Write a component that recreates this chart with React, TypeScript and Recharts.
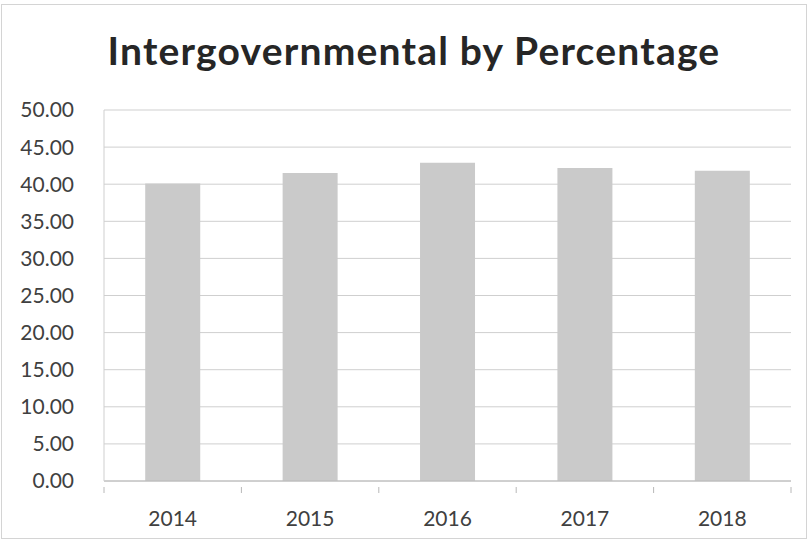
import React from "react";
import { BarChart, Bar, XAxis, YAxis, CartesianGrid } from "recharts";

const years = ["2014", "2015", "2016", "2017", "2018"];
const percentages = [40.1, 41.5, 42.9, 42.2, 41.8];
const yTicks = [0, 5, 10, 15, 20, 25, 30, 35, 40, 45, 50];

const data = years.map((y, i) => ({ year: y, value: percentages[i] }));

const W = 808;
const H = 540;
const M = { top: 110, right: 17, bottom: 29, left: 0 };
const YW = 104;
const BAND = (W - M.right - YW) / years.length;
const FONT = "Lato, 'Open Sans', sans-serif";

const XTick = (props: any) => {
  const { x, y, payload, index } = props;
  const axisY = y - 22;
  return (
    <g>
      <line x1={x - BAND / 2} y1={axisY} x2={x - BAND / 2} y2={axisY + 6} stroke="#b8b8b8" />
      {index === years.length - 1 && (
        <line x1={x + BAND / 2} y1={axisY} x2={x + BAND / 2} y2={axisY + 6} stroke="#b8b8b8" />
      )}
      <text x={x} y={y} dy={17} textAnchor="middle" fill="#404040" fontSize={21} fontFamily={FONT}>
        {payload.value}
      </text>
    </g>
  );
};

export default function App() {
  return (
    <div style={{ position: "absolute", left: 0, top: 0, width: W, height: H, background: "#fff" }}>
      <div
        style={{
          position: "absolute",
          left: 1,
          top: 4,
          width: W - 4,
          height: H - 7,
          border: "1px solid #d4d4d4",
        }}
      />
      <div
        style={{
          position: "absolute",
          left: 10,
          top: 27,
          width: W,
          textAlign: "center",
          fontFamily: FONT,
          fontWeight: 700,
          fontSize: 39,
          letterSpacing: 1.2,
          color: "#262626",
          whiteSpace: "nowrap",
        }}
      >
        Intergovernmental by Percentage
      </div>
      <BarChart width={W} height={H} data={data} margin={M} barCategoryGap="30%">
        <CartesianGrid vertical={false} stroke="#cfcfcf" />
        <XAxis
          dataKey="year"
          tick={<XTick />}
          tickLine={false}
          tickMargin={22}
          axisLine={{ stroke: "#b8b8b8" }}
          interval={0}
        />
        <YAxis
          width={YW}
          domain={[0, 50]}
          ticks={yTicks}
          interval={0}
          tickFormatter={(v: number) => v.toFixed(2)}
          tickLine={false}
          tickMargin={24}
          axisLine={{ stroke: "#cfcfcf" }}
          tick={{ fill: "#404040", fontSize: 21, fontFamily: FONT }}
        />
        <Bar dataKey="value" fill="#cacaca" isAnimationActive={false} />
      </BarChart>
    </div>
  );
}
